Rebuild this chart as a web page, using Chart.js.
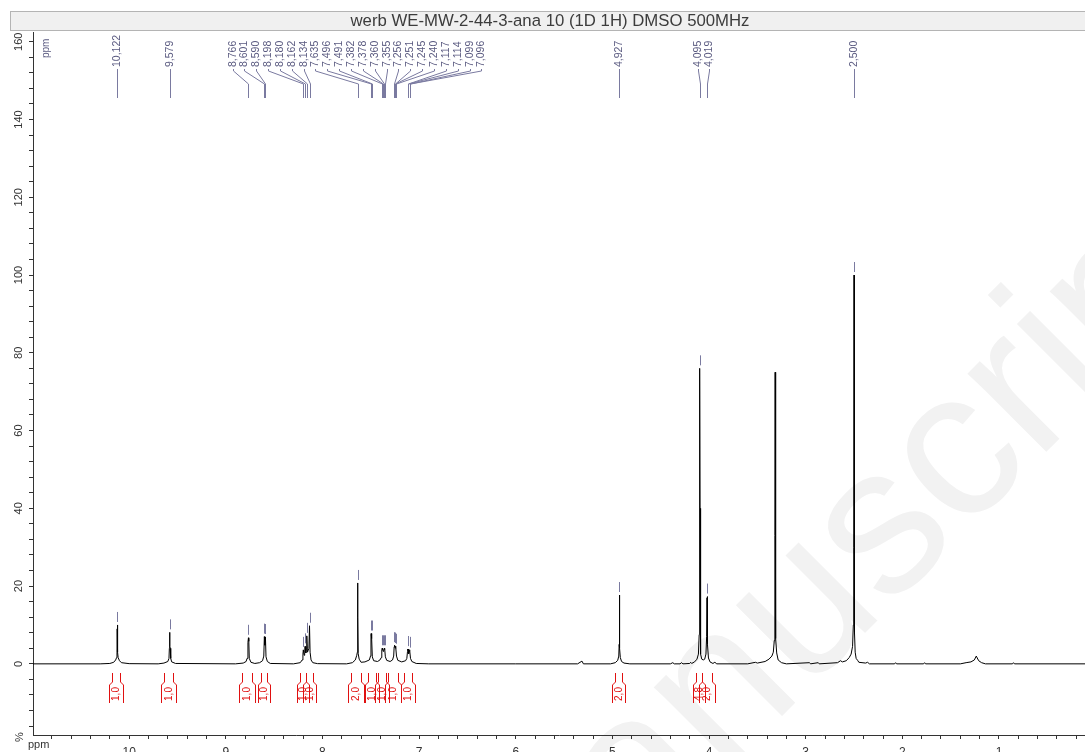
<!DOCTYPE html>
<html>
<head>
<meta charset="utf-8">
<title>werb WE-MW-2-44-3-ana 10</title>
<script src="https://cdn.jsdelivr.net/npm/chart.js@4.4.0/dist/chart.umd.min.js"></script>
<style>
  html, body { margin: 0; padding: 0; background: #fff; overflow: hidden; }
  #wrap { width: 1085px; height: 766px; }
</style>
</head>
<body>
<div id="wrap"><canvas id="nmr" width="1085" height="766"></canvas></div>
<script>
// spectrum trace (ppm / intensity %)
var aromPpm = [10.995, 10.30, 10.20, 10.16, 10.14, 10.130, 10.126, 10.124, 10.122, 10.120, 10.118, 10.114, 10.10, 10.08, 10.00,
  9.70, 9.64, 9.60, 9.588, 9.584, 9.582, 9.580, 9.578, 9.575, 9.570, 9.56, 9.52,
  8.90, 8.82, 8.79, 8.78, 8.771, 8.766, 8.762, 8.757, 8.74, 8.70,
  8.65, 8.62, 8.607, 8.601, 8.596, 8.590, 8.584, 8.57, 8.54,
  8.30, 8.23, 8.210, 8.202, 8.198, 8.190, 8.184, 8.180, 8.172, 8.166, 8.162, 8.155, 8.140, 8.134, 8.128, 8.118, 8.10, 8.05,
  7.75, 7.69, 7.66, 7.645, 7.639, 7.637, 7.635, 7.633, 7.630, 7.620, 7.60,
  7.56, 7.515, 7.503, 7.498, 7.496, 7.494, 7.491, 7.488, 7.484, 7.470,
  7.43, 7.405, 7.392, 7.386, 7.382, 7.380, 7.378, 7.372, 7.366, 7.360, 7.358, 7.355, 7.349, 7.335,
  7.30, 7.275, 7.263, 7.258, 7.256, 7.254, 7.251, 7.248, 7.245, 7.242, 7.240, 7.234, 7.220,
  7.18, 7.14, 7.127, 7.120, 7.117, 7.116, 7.114, 7.108, 7.102, 7.099, 7.097, 7.096, 7.089, 7.075, 7.03, 6.90, 6.00];
var aromInt = [0, 0, 0.1, 0.4, 1.0, 1.6, 3.0, 9.0, 10.0, 9.4, 3.0, 1.6, 0.8, 0.3, 0.05,
  0, 0.2, 0.6, 1.4, 4.0, 4.5, 8.1, 4.4, 4.0, 1.4, 0.5, 0.1,
  0, 0.2, 0.6, 1.4, 5.5, 6.7, 5.8, 1.4, 0.4, 0.1,
  0.3, 0.8, 2.0, 7.0, 4.8, 6.9, 1.8, 0.6, 0.1,
  0, 0.3, 1.0, 2.5, 3.6, 2.2, 3.0, 4.5, 2.8, 4.0, 7.2, 3.0, 4.0, 9.8, 3.0, 1.0, 0.3, 0.05,
  0, 0.3, 1.0, 2.2, 3.0, 14, 20.8, 12, 2.6, 1.2, 0.4,
  0.5, 1.0, 2.0, 7.5, 7.8, 7.0, 7.8, 6.5, 1.8, 0.8,
  0.6, 1.0, 1.6, 3.6, 4.0, 3.7, 4.0, 3.2, 3.6, 4.0, 3.7, 4.0, 1.8, 0.9,
  0.6, 1.0, 2.0, 4.4, 4.8, 4.3, 4.7, 4.2, 4.6, 4.0, 4.4, 2.0, 0.9,
  0.5, 0.8, 1.4, 3.2, 3.8, 3.4, 3.8, 2.6, 3.2, 3.6, 3.2, 3.4, 1.4, 0.6, 0.1, 0, 0];

var midPpm = [5.36, 5.315, 5.30, 5.02, 4.97, 4.945, 4.934, 4.930, 4.928, 4.927, 4.925, 4.923, 4.918, 4.905, 4.88, 4.82,
  4.40, 4.375, 4.36, 4.30, 4.285, 4.27, 4.20, 4.19, 4.18, 4.15, 4.125, 4.110, 4.102, 4.099, 4.095, 4.093, 4.090, 4.085, 4.075,
  4.060, 4.045, 4.032, 4.025, 4.021, 4.019, 4.017, 4.013, 4.006, 3.99, 3.96, 3.94, 3.92,
  3.60, 3.52, 3.50, 3.42, 3.38, 3.35, 3.335, 3.325, 3.319, 3.316, 3.313, 3.309, 3.300, 3.285, 3.25, 3.20];
var midInt = [0, 0.7, 0, 0, 0.3, 0.9, 2.0, 5.0, 13.5, 17.7, 13.5, 4.0, 1.6, 0.6, 0.2, 0,
  0, 0.3, 0, 0, 0.3, 0, 0.1, 0.4, 0.1, 0.5, 1.2, 2.5, 7.5, 40, 76, 40, 8, 2.5, 1.2,
  1.0, 1.2, 2.5, 7.0, 17.0, 17.3, 15, 5.0, 1.5, 0.5, 0.1, 0.4, 0,
  0, 0.4, 0.2, 0.6, 1.2, 2.0, 3.0, 6.0, 33, 75, 30, 6.5, 2.8, 1.0, 0.3, 0];

var aliphPpm = [2.96, 2.95, 2.87, 2.86, 2.67, 2.64, 2.62, 2.58, 2.55, 2.530, 2.515, 2.507, 2.503, 2.500, 2.497, 2.493, 2.488, 2.478,
  2.46, 2.45, 2.38, 2.36, 2.34, 2.08, 2.07, 2.06, 1.78, 1.77, 1.76,
  1.40, 1.34, 1.29, 1.255, 1.235, 1.225, 1.21, 1.18, 1.14, 0.86, 0.85, 0.84, 0.11];
var aliphInt = [0.3, 0, 0.3, 0, 0.3, 0.8, 0.5, 0.8, 1.6, 2.5, 4.5, 10, 30, 100, 30, 8, 3.0, 1.4,
  0.8, 0.4, 0.2, 0.4, 0, 0, 0.3, 0, 0, 0.3, 0,
  0, 0.3, 0.5, 1.0, 2.0, 1.5, 0.8, 0.3, 0, 0, 0.3, 0, 0];

// picked peaks (label text and peak top)
var peakPpm = [10.122, 9.579, 8.766, 8.601, 8.590, 8.198, 8.180, 8.162, 8.134, 7.635, 7.496, 7.491,
  7.382, 7.378, 7.360, 7.355, 7.256, 7.251, 7.245, 7.240, 7.117, 7.114, 7.099, 7.096, 4.927, 4.095, 4.019, 2.500];
var peakTop = [10.0, 8.1, 6.7, 7.0, 6.9, 3.6, 4.5, 7.2, 9.8, 20.8, 7.8, 7.8,
  4.0, 4.0, 4.0, 4.0, 4.8, 4.7, 4.6, 4.4, 3.8, 3.8, 3.6, 3.4, 17.7, 76, 17.3, 100];

// integrals
var intFrom = [10.18, 9.64, 8.83, 8.64, 8.23, 8.17, 7.70, 7.53, 7.43, 7.32, 7.16, 4.97, 4.13, 4.07];
var intTo = [10.09, 9.55, 8.73, 8.57, 8.17, 8.10, 7.60, 7.45, 7.34, 7.22, 7.07, 4.90, 4.07, 3.97];
var intValue = ['1,0', '1,0', '1,0', '1,0', '1,0', '1,0', '2,0', '1,0', '1,0', '1,0', '1,0', '2,0', '4,8', '2,0'];

var yLabels = [0, 20, 40, 60, 80, 100, 120, 140, 160];

var FONT = '"Liberation Sans", Arial, sans-serif';

var spectrum = [];
[[aromPpm, aromInt], [midPpm, midInt], [aliphPpm, aliphInt]].forEach(function(part) {
  for (var i = 0; i < part[0].length; i++) {
    spectrum.push({ x: part[0][i], y: part[1][i] });
  }
});

// spread crowded peak labels like the NMR software does
function spreadLabels(xs, gap) {
  var groups = xs.map(function(x, i) { return { idx: [i], center: x }; });
  var merged = true;
  while (merged) {
    merged = false;
    for (var g = 0; g < groups.length - 1; g++) {
      var a = groups[g], b = groups[g + 1];
      var aEnd = a.center + (a.idx.length - 1) * gap / 2;
      var bStart = b.center - (b.idx.length - 1) * gap / 2;
      if (bStart - aEnd < gap) {
        var idx = a.idx.concat(b.idx);
        var c = 0;
        idx.forEach(function(k) { c += xs[k]; });
        groups.splice(g, 2, { idx: idx, center: c / idx.length });
        merged = true;
        break;
      }
    }
  }
  var out = [];
  groups.forEach(function(gr) {
    gr.idx.forEach(function(k, j) {
      out[k] = gr.center + (j - (gr.idx.length - 1) / 2) * gap;
    });
  });
  return out;
}

var decorPlugin = {
  id: 'decor',
  beforeDraw: function(chart) {
    var c = chart.ctx;
    // faint watermark
    c.save();
    c.fillStyle = '#f2f2f2';
    c.font = '210px ' + FONT;
    c.translate(516, 982);
    c.rotate(-Math.PI / 4);
    c.fillText('Manuscript', 0, 0);
    c.restore();
  },
  afterDraw: function(chart) {
    var c = chart.ctx;
    var xs = chart.scales.x, ys = chart.scales.y;

    // title bar
    c.save();
    c.fillStyle = '#f0f0f0';
    c.strokeStyle = '#b4b4b4';
    c.lineWidth = 1;
    c.fillRect(10, 11, 1090, 19);
    c.strokeRect(10.5, 11.5, 1090, 19);
    c.fillStyle = '#3c3c3c';
    c.font = '16.75px ' + FONT;
    c.textAlign = 'center';
    c.textBaseline = 'middle';
    c.fillText('werb WE-MW-2-44-3-ana 10 (1D 1H) DMSO 500MHz', 550, 21.5);
    c.restore();

    // y tick labels, rotated
    c.save();
    c.fillStyle = '#333';
    c.font = '11px ' + FONT;
    c.textAlign = 'center';
    c.textBaseline = 'middle';
    yLabels.forEach(function(v) {
      c.save();
      c.translate(19, ys.getPixelForValue(v));
      c.rotate(-Math.PI / 2);
      c.fillText(String(v), 0, 0);
      c.restore();
    });
    c.save();
    c.translate(20, 737);
    c.rotate(-Math.PI / 2);
    c.fillText('%', 0, 0);
    c.restore();
    c.textAlign = 'left';
    c.fillText('ppm', 28, 745);
    c.fillStyle = '#5a5a80';
    c.font = '10px ' + FONT;
    c.translate(46, 58);
    c.rotate(-Math.PI / 2);
    c.fillText('ppm', 0, 0);
    c.restore();

    // peak markers, labels and leader lines
    var px = peakPpm.map(function(p) { return xs.getPixelForValue(p); });
    var lx = spreadLabels(px, 11.85);
    c.save();
    c.strokeStyle = '#7a7aa0';
    c.lineWidth = 1;
    for (var i = 0; i < peakPpm.length; i++) {
      var x = Math.round(px[i]) + 0.5;
      var top = ys.getPixelForValue(peakTop[i]);
      c.beginPath();
      c.moveTo(x, top - 3);
      c.lineTo(x, top - 13);
      c.stroke();

      var l = Math.round(lx[i]) + 0.5;
      c.beginPath();
      c.moveTo(l, 69);
      c.lineTo(l, 71);
      c.lineTo(x, 84);
      c.lineTo(x, 98);
      c.stroke();
    }
    c.fillStyle = '#5a5a80';
    c.font = '10.5px ' + FONT;
    c.textAlign = 'left';
    c.textBaseline = 'middle';
    for (var j = 0; j < peakPpm.length; j++) {
      c.save();
      c.translate(Math.round(lx[j]) + 0.5, 67);
      c.rotate(-Math.PI / 2);
      c.fillText(peakPpm[j].toFixed(3).replace('.', ','), 0, 0);
      c.restore();
    }
    c.restore();

    // integral brackets
    c.save();
    c.strokeStyle = '#e01010';
    c.fillStyle = '#e01010';
    c.lineWidth = 1;
    c.font = '10px ' + FONT;
    c.textAlign = 'center';
    c.textBaseline = 'middle';
    for (var k = 0; k < intFrom.length; k++) {
      var x1 = Math.round(xs.getPixelForValue(intFrom[k])) + 0.5;
      var x2 = Math.round(xs.getPixelForValue(intTo[k])) + 0.5;
      c.beginPath();
      c.moveTo(x1, 673); c.lineTo(x1, 682); c.lineTo(x1 - 3, 685); c.lineTo(x1 - 3, 703);
      c.moveTo(x2, 673); c.lineTo(x2, 682); c.lineTo(x2 + 3, 685); c.lineTo(x2 + 3, 703);
      c.stroke();
      c.save();
      c.translate((x1 + x2) / 2, 694);
      c.rotate(-Math.PI / 2);
      c.fillText(intValue[k], 0, 0);
      c.restore();
    }
    c.restore();
  }
};

new Chart(document.getElementById('nmr'), {
  type: 'line',
  data: {
    datasets: [{
      data: spectrum,
      borderColor: '#000',
      borderWidth: 1,
      pointRadius: 0,
      tension: 0,
      fill: false
    }]
  },
  options: {
    responsive: false,
    animation: false,
    devicePixelRatio: 1,
    layout: { padding: { left: 29, right: 0, top: 32, bottom: 0 } },
    plugins: { legend: { display: false }, tooltip: { enabled: false } },
    scales: {
      x: {
        type: 'linear',
        reverse: true,
        min: 0.11,
        max: 10.995,
        border: { color: '#333', width: 1 },
        grid: { drawOnChartArea: false, drawTicks: true, tickLength: 4, color: '#333' },
        ticks: {
          stepSize: 0.2,
          autoSkip: false,
          includeBounds: false,
          maxRotation: 0,
          padding: 6,
          color: '#333',
          font: { family: FONT, size: 12, lineHeight: 1.25 },
          callback: function(v) {
            return Math.abs(v - Math.round(v)) < 1e-6 ? String(Math.round(v)) : '';
          }
        }
      },
      y: {
        min: -18.3,
        max: 162.5,
        border: { color: '#333', width: 1 },
        grid: { drawOnChartArea: false, drawTicks: true, tickLength: 4, color: '#333' },
        ticks: { display: false, stepSize: 4, includeBounds: false }
      }
    }
  },
  plugins: [decorPlugin]
});
</script>
</body>
</html>
